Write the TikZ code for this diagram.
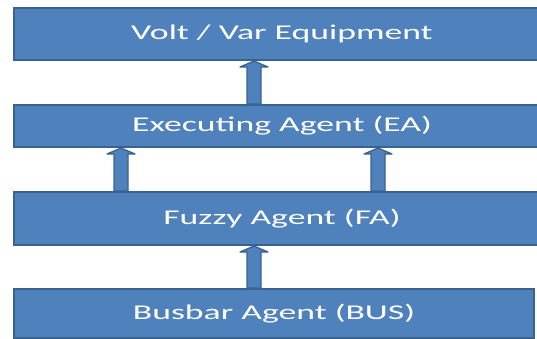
\documentclass[tikz,border=0pt]{standalone}
\usepackage{fontspec}
\setmainfont{Carlito}
\usetikzlibrary{calc}
\definecolor{boxfill}{HTML}{4F81BD}
\definecolor{boxline}{HTML}{3A6291}
\tikzset{
  box/.style={draw=boxline, line width=2pt, fill=boxfill, anchor=north west,
    inner sep=0pt, text=white, font=\fontsize{21}{25}\selectfont},
  arrowbox/.style={draw=boxline, line width=1.3pt, fill=boxfill, line join=round},
}
\newcommand\boxtext[1]{\scalebox{1.7}[1]{#1}}
\newcommand\blockarrow[2]{%
  \draw[arrowbox] let \p1=#1, \p2=#2 in
    (\x1-7pt,\y1) -- (\x1-7pt,\y2-6pt) -- (\x1-14pt,\y2-6pt) -- (\x1,\y2)
    -- (\x1+14pt,\y2-6pt) -- (\x1+7pt,\y2-6pt) -- (\x1+7pt,\y1) -- cycle;}
\begin{document}
\begin{tikzpicture}[x=1pt,y=1pt]
\useasboundingbox (0,0) rectangle (537,-338);
\node[box, minimum width=536pt, minimum height=52pt] (ve) at (13,-7) {\boxtext{Volt / Var Equipment}};
\node[box, minimum width=536pt, minimum height=42pt] (ea) at (13,-104) {\boxtext{Executing Agent (EA)}};
\node[box, minimum width=536pt, minimum height=53pt] (fa) at (13,-191) {\boxtext{Fuzzy Agent (FA)}};
\node[box, minimum width=520pt, minimum height=49pt] (bus) at (13,-288) {\boxtext{Busbar Agent (BUS)}};
\blockarrow{(ea.north -| 254,0)}{(ve.south -| 254,0)}
\blockarrow{(fa.north -| 121,0)}{(ea.south -| 121,0)}
\blockarrow{(fa.north -| 378,0)}{(ea.south -| 378,0)}
\blockarrow{(bus.north -| 254,0)}{(fa.south -| 254,0)}
\end{tikzpicture}
\end{document}
